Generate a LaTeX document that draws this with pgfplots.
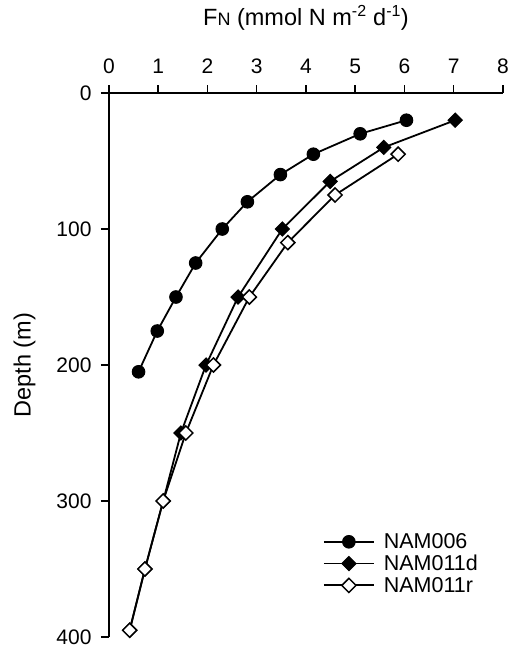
\documentclass[border=0pt]{standalone}
\usepackage{pgfplots}
\pgfplotsset{compat=1.18}
\usepackage{fontspec}
\setmainfont{Liberation Sans}
\begin{document}
\begin{tikzpicture}
\useasboundingbox (-109pt,-11pt) rectangle (399pt,637pt);
\begin{axis}[
  scale only axis,
  width=394pt, height=544pt,
  xmin=0, xmax=8, ymin=0, ymax=400,
  y dir=reverse,
  axis x line*=top, axis y line*=left,
  axis line style={line width=1.8pt, -},
  xtick={0,1,...,8}, ytick={0,100,200,300,400},
  tick align=outside,
  major tick length=8pt,
  tick style={line width=1.5pt, black},
  /pgf/number format/assume math mode=true,
  ticklabel style={font=\fontsize{21}{24}\selectfont},
  xticklabel style={yshift=8pt},
  yticklabel style={xshift=-6pt},
  xlabel={F{\fontsize{18}{18}\selectfont N} (mmol N m\textsuperscript{\fontsize{16}{16}\selectfont -2} d\textsuperscript{\fontsize{16}{16}\selectfont -1})},
  ylabel={Depth (m)},
  label style={font=\fontsize{23.5}{27}\selectfont},
  xlabel style={yshift=21pt},
  ylabel style={yshift=14pt},
  legend style={draw=none, fill=none, at={(0.535,0.197)}, anchor=north west,
    font=\fontsize{21.5}{24}\selectfont, row sep=2pt,
    nodes={inner xsep=9pt, inner ysep=1.5pt}},
  legend cell align=left,
  legend image code/.code={\draw[mark repeat=2,mark phase=2] plot coordinates {(0pt,0pt) (25pt,0pt) (50pt,0pt)};},
]
\addplot[black, line width=1.8pt, mark=*, mark size=6.3pt, mark options={fill=black, draw=black, line width=1pt}] table {
x y
6.04 20
5.10 30
4.15 45
3.48 60
2.81 80
2.30 100
1.76 125
1.36 150
0.98 175
0.60 205
};
\addlegendentry{NAM006}
\addplot[black, line width=1.8pt, mark=square*, mark size=5pt, mark options={rotate=45, fill=black, draw=black, line width=1pt}] table {
x y
7.03 20
5.58 40
4.49 65
3.52 100
2.62 150
1.97 200
1.46 250
1.10 300
0.73 350
0.42 395
};
\addlegendentry{NAM011d}
\addplot[black, line width=1.8pt, mark=square*, mark size=5pt, mark options={rotate=45, fill=white, draw=black, line width=1.5pt}] table {
x y
5.87 45
4.59 75
3.63 110
2.85 150
2.12 200
1.56 250
1.10 300
0.73 350
0.42 395
};
\addlegendentry{NAM011r}
\end{axis}
\end{tikzpicture}
\end{document}
